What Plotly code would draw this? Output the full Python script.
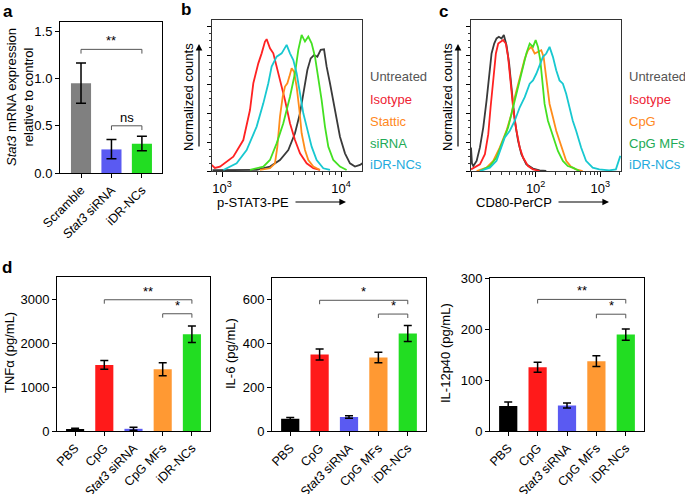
import plotly.graph_objects as go

FONT = "Liberation Sans, Arial, Helvetica, sans-serif"
W, H = 685, 494

# ---------------- Panel a data ----------------
a_categories = ["Scramble", "<i>Stat3</i> siRNA", "iDR-NCs"]
a_means = [0.95, 0.25, 0.31]
a_err_up = [0.215, 0.105, 0.08]
a_err_down = [0.21, 0.10, 0.075]
a_colors = ["#808080", "#5a5af2", "#22dd22"]
a_yticks = [0.0, 0.5, 1.0, 1.5]

# ---------------- Panel b data (log10 fluorescence, % of max counts) ----------------
b_untreated_log = [2.92, 3.095, 3.291, 3.403, 3.487, 3.557, 3.613, 3.655, 3.689, 3.717, 3.745, 3.773, 3.801, 3.829,
                   3.857, 3.879, 3.907, 3.935, 3.963, 3.991, 4.033, 4.075, 4.117, 4.159, 4.179]
b_untreated_cnt = [0.5, 0.7, 0.7, 2.9, 7.3, 13.9, 25.0, 38.2, 53.7, 66.9, 74.6, 76.8, 75.7, 80.2,
                   80.6, 69.1, 58.1, 47.0, 33.8, 22.7, 11.7, 5.1, 2.9, 4.0, 5.1]
b_isotype_log = [2.913, 2.94, 2.983, 3.095, 3.179, 3.235, 3.263, 3.305, 3.333, 3.361, 3.375, 3.403, 3.431,
                 3.459, 3.487, 3.529, 3.571, 3.613, 3.655, 3.711, 3.767, 3.823]
b_isotype_cnt = [4.0, 2.0, 2.9, 9.5, 20.5, 40.4, 58.1, 71.3, 77.9, 85.7, 87.3, 81.3, 77.9,
                 69.1, 60.3, 47.0, 31.6, 20.5, 11.7, 5.1, 1.8, 0.7]
b_stattic_log = [3.319, 3.403, 3.445, 3.465, 3.487, 3.510, 3.529, 3.549, 3.566, 3.585, 3.605, 3.627, 3.650,
                 3.669, 3.697, 3.725, 3.767, 3.823]
b_stattic_cnt = [0.7, 1.8, 5.1, 16.1, 36.0, 49.2, 55.9, 58.1, 62.5, 68.0, 65.8, 55.9, 40.4,
                 25.0, 13.9, 7.3, 2.9, 0.7]
b_sirna_log = [3.235, 3.347, 3.403, 3.459, 3.515, 3.571, 3.613, 3.641, 3.669, 3.697, 3.725, 3.753, 3.781,
               3.809, 3.837, 3.865, 3.893, 3.935, 3.991, 4.047]
b_sirna_cnt = [0.7, 2.9, 7.3, 18.3, 31.6, 49.2, 64.7, 80.2, 90.1, 85.7, 89.0, 84.6, 75.7,
               62.5, 47.0, 29.4, 16.1, 7.3, 2.9, 0.7]
b_idr_log = [3.011, 3.123, 3.207, 3.291, 3.347, 3.389, 3.417, 3.459, 3.501, 3.543, 3.571, 3.599, 3.627,
             3.655, 3.683, 3.711, 3.753, 3.795, 3.851, 3.907]
b_idr_cnt = [0.7, 5.1, 13.9, 29.4, 44.8, 58.1, 69.1, 75.7, 77.9, 83.5, 77.9, 73.5, 64.7,
             51.4, 38.2, 29.4, 16.1, 7.3, 1.8, 0.7]
b_labels = ["Untreated", "Isotype", "Stattic", "siRNA", "iDR-NCs"]
b_xtick_vals = [1000, 10000]
b_xtick_text = ["10<sup>3</sup>", "10<sup>4</sup>"]

# ---------------- Panel c data ----------------
c_untreated_log = [1.000, 1.015, 1.036, 1.087, 1.138, 1.190, 1.241, 1.282, 1.318, 1.359, 1.395, 1.431, 1.472,
                   1.508, 1.549, 1.590, 1.626, 1.677, 1.728, 1.779, 1.856, 1.959, 2.062, 2.164]
c_untreated_cnt = [15.6, 5.0, 3.3, 6.7, 15.6, 28.9, 46.7, 64.4, 77.8, 84.4, 87.8, 88.9, 87.8,
                   90.0, 83.3, 71.1, 53.3, 33.3, 20.0, 11.1, 4.4, 1.6, 0.4, 0.0]
c_isotype_log = [1.000, 1.138, 1.215, 1.267, 1.303, 1.344, 1.385, 1.421, 1.456, 1.497, 1.538, 1.574, 1.610,
                 1.651, 1.703, 1.754, 1.805, 1.882, 1.959, 2.062]
c_isotype_cnt = [1.1, 4.4, 11.1, 24.4, 42.2, 62.2, 77.8, 84.4, 85.6, 86.7, 84.4, 75.6, 60.0,
                 42.2, 26.7, 15.6, 8.9, 3.3, 1.1, 0.0]
c_cpg_log = [1.087, 1.241, 1.344, 1.446, 1.549, 1.626, 1.677, 1.728, 1.779, 1.831, 1.882, 1.933, 1.985,
             2.036, 2.087, 2.123, 2.164, 2.215, 2.267, 2.318, 2.369, 2.421, 2.472, 2.549, 2.626, 2.728]
c_cpg_cnt = [0.0, 2.2, 6.7, 15.6, 26.7, 37.8, 48.9, 57.8, 66.7, 74.4, 80.0, 82.2, 77.8,
             78.9, 80.0, 75.6, 60.0, 44.4, 35.6, 26.7, 20.0, 13.3, 6.7, 2.7, 1.1, 0.0]
c_mfs_log = [1.138, 1.292, 1.395, 1.497, 1.574, 1.651, 1.728, 1.805, 1.856, 1.908, 1.959, 2.000, 2.036,
             2.072, 2.103, 2.138, 2.190, 2.241, 2.292, 2.344, 2.421, 2.497, 2.574, 2.677]
c_mfs_cnt = [0.0, 3.3, 8.9, 20.0, 28.9, 42.2, 55.6, 68.9, 77.8, 84.4, 82.2, 86.7, 82.2,
             73.3, 57.8, 44.4, 33.3, 26.7, 20.0, 13.3, 6.7, 3.3, 2.2, 0.0]
c_idr_log = [1.138, 1.292, 1.395, 1.472, 1.523, 1.600, 1.677, 1.754, 1.831, 1.908, 1.959, 2.010, 2.062,
             2.113, 2.164, 2.215, 2.267, 2.318, 2.369, 2.421, 2.472, 2.523, 2.574, 2.626, 2.703, 2.779,
             2.882, 2.985, 3.138, 3.241, 3.292, 3.310]
c_idr_cnt = [0.0, 2.2, 6.7, 15.6, 22.2, 26.7, 33.3, 42.2, 48.9, 57.8, 60.0, 64.4, 70.0,
             75.6, 77.8, 82.2, 75.6, 66.7, 60.0, 57.8, 51.1, 42.2, 33.3, 26.7, 15.6, 6.7,
             2.2, 1.1, 0.4, 1.1, 6.7, 10.0]
c_labels = ["Untreated", "Isotype", "CpG", "CpG MFs", "iDR-NCs"]
c_xtick_vals = [10, 100, 1000]
c_xtick_text = ["", "10<sup>2</sup>", "10<sup>3</sup>"]

# ---------------- Panel d data ----------------
d_categories = ["PBS", "CpG", "<i>Stat3</i> siRNA", "CpG MFs", "iDR-NCs"]
d_colors = ["#000000", "#ff1a1a", "#5a5af2", "#ff9933", "#22dd22"]
tnf_means = [40, 1510, 50, 1410, 2210]
tnf_err = [20, 100, 35, 150, 190]
il6_means = [56, 350, 64, 336, 446]
il6_err = [6, 25, 6, 24, 37]
il12_means = [49, 125, 50, 137, 189]
il12_err = [8, 10, 5, 10.5, 11]
tnf_ticks = [0, 1000, 2000, 3000]
il6_ticks = [0, 200, 400, 600]
il12_ticks = [0, 100, 200, 300]

curve_colors = ["#3a3a3a", "#ff2222", "#ff8c1a", "#44e022", "#18c8d0"]
legend_colors = ["#555555", "#ee2233", "#ff8822", "#22aa55", "#22aadd"]


def dom_x(p0, p1):
    return [p0 / W, p1 / W]


def dom_y(top, bottom):
    return [1 - bottom / H, 1 - top / H]


fig = go.Figure()

boxes = {
    "a": (60, 162, 22, 173),
    "b": (212, 362, 20, 171),
    "c": (471, 621, 20, 171),
    "d1": (57, 210, 277, 431),
    "d2": (272, 426, 278, 431),
    "d3": (490, 644, 278, 431),
}
ids = {"a": "", "b": "2", "c": "3", "d1": "4", "d2": "5", "d3": "6"}

base_axis = dict(showline=True, linecolor="black", linewidth=1, mirror=True, ticks="outside",
                 ticklen=4, tickcolor="black", tickwidth=1, showgrid=False, zeroline=False,
                 automargin=False, tickfont=dict(family=FONT, size=13, color="black"))

layout = dict(width=W, height=H, margin=dict(l=0, r=0, t=0, b=0, autoexpand=False), paper_bgcolor="white",
              plot_bgcolor="white", showlegend=False, font=dict(family=FONT, color="black"))

for key, (x0, x1, y0, y1) in boxes.items():
    s = ids[key]
    layout["xaxis" + s] = dict(base_axis, domain=dom_x(x0, x1), anchor="y" + s)
    layout["yaxis" + s] = dict(base_axis, domain=dom_y(y0, y1), anchor="x" + s)

# panel a axes
layout["xaxis"].update(range=[-0.69, 2.66], tickvals=[0, 1, 2], ticktext=a_categories, tickangle=-45,
                       tickfont=dict(family=FONT, size=12.5, color="black"))
layout["yaxis"].update(range=[0, 1.6], tickvals=a_yticks, tickformat=".1f")

# panel d axes
for s, rng, tv in [("4", 3520, tnf_ticks), ("5", 700, il6_ticks), ("6", 300, il12_ticks)]:
    layout["xaxis" + s].update(range=[-0.62, 4.62], tickvals=list(range(5)), ticktext=d_categories,
                               tickangle=-45, tickfont=dict(family=FONT, size=12.5, color="black"))
    layout["yaxis" + s].update(range=[0, rng], tickvals=tv)

# flow axes
for s, rng, tv, tt, minors in [
    ("2", [2.916, 4.176], b_xtick_vals, b_xtick_text, [900, 2000, 3000, 4000, 5000, 6000, 7000, 8000, 9000]),
    ("3", [1.0, 3.32], c_xtick_vals, c_xtick_text,
     [20, 30, 40, 50, 60, 70, 80, 90, 200, 300, 400, 500, 600, 700, 800, 900, 2000]),
]:
    layout["xaxis" + s].update(type="log", range=rng, tickvals=tv, ticktext=tt, linecolor="#333",
                               ticklen=5, minor=dict(tickmode="array", tickvals=minors, ticks="outside",
                                                     ticklen=3, tickcolor="#333"))
    layout["yaxis" + s].update(range=[0, 100], tickvals=[0, 19.2, 38.4, 57.6, 76.8, 96.0],
                               showticklabels=False, linecolor="#333", ticklen=4,
                               minor=dict(tickmode="array",
                                          tickvals=[4.8 * i for i in range(1, 21) if i % 4 != 0],
                                          ticks="outside", ticklen=2, tickcolor="#333"))

fig.update_layout(**layout)

# ---------- bars ----------
fig.add_trace(go.Bar(x=[0, 1, 2], y=a_means, marker=dict(color=a_colors, line=dict(width=0)), width=0.66,
                     error_y=dict(type="data", symmetric=False, array=a_err_up, arrayminus=a_err_down,
                                  color="black", thickness=1.5, width=5),
                     xaxis="x", yaxis="y"))
for s, means, err in [("4", tnf_means, tnf_err), ("5", il6_means, il6_err), ("6", il12_means, il12_err)]:
    fig.add_trace(go.Bar(x=list(range(5)), y=means, marker=dict(color=d_colors, line=dict(width=0)),
                         width=0.62,
                         error_y=dict(type="data", array=err, color="black", thickness=1.5, width=4),
                         xaxis="x" + s, yaxis="y" + s))

# ---------- flow histograms ----------
b_sets = [(b_untreated_log, b_untreated_cnt), (b_isotype_log, b_isotype_cnt), (b_stattic_log, b_stattic_cnt),
          (b_sirna_log, b_sirna_cnt), (b_idr_log, b_idr_cnt)]
c_sets = [(c_untreated_log, c_untreated_cnt), (c_isotype_log, c_isotype_cnt), (c_cpg_log, c_cpg_cnt),
          (c_mfs_log, c_mfs_cnt), (c_idr_log, c_idr_cnt)]
for s, sets in [("2", b_sets), ("3", c_sets)]:
    for (lx, cnt), col in zip(sets, curve_colors):
        fig.add_trace(go.Scatter(x=[10 ** v for v in lx], y=cnt, mode="lines",
                                 line=dict(color=col, width=1.8), xaxis="x" + s, yaxis="y" + s,
                                 cliponaxis=True, hoverinfo="skip"))

shapes = []
annotations = []


def bracket(s, x0, x1, y, drop, text, fsize=13):
    shapes.append(dict(type="path", xref="x" + s, yref="y" + s,
                       path=f"M {x0},{y - drop} L {x0},{y} L {x1},{y} L {x1},{y - drop}",
                       line=dict(color="#555555", width=1)))
    annotations.append(dict(x=(x0 + x1) / 2, y=y, xref="x" + s, yref="y" + s, text=text, showarrow=False,
                            yanchor="bottom", yshift=-1, font=dict(family=FONT, size=fsize, color="black")))


bracket("", 0, 2, 1.31, 0.045, "**")
bracket("", 1, 2, 0.50, 0.045, "ns")
bracket("4", 1, 4, 3000, 90, "**")
bracket("4", 3, 4, 2680, 90, "*")
bracket("5", 1, 4, 598, 18, "*")
bracket("5", 3, 4, 535, 18, "*")
bracket("6", 1, 4, 258, 8, "**")
bracket("6", 3, 4, 229, 8, "*")


def txt(px, py, text, size=13, color="black", angle=0, xanchor="center"):
    annotations.append(dict(x=px / W, y=1 - py / H, xref="paper", yref="paper", text=text, showarrow=False,
                            textangle=angle, xanchor=xanchor, yanchor="middle",
                            font=dict(family=FONT, size=size, color=color)))


# panel letters
txt(8, 11, "<b>a</b>", size=17)
txt(186, 9, "<b>b</b>", size=17)
txt(443, 11, "<b>c</b>", size=17)
txt(7, 267, "<b>d</b>", size=17)

# axis titles
txt(20, 97, "<i>Stat3</i> mRNA expression<br>relative to control", size=13, angle=-90)
txt(188, 97, "Normalized counts", size=13, angle=-90)
txt(447, 97, "Normalized counts", size=13, angle=-90)
txt(253, 202, "p-STAT3-PE", size=13)
txt(514, 202, "CD80-PerCP", size=13)
txt(9, 353, "TNFα (pg/mL)", size=13, angle=-90)
txt(230, 353, "IL-6 (pg/mL)", size=13, angle=-90)
txt(445, 353, "IL-12p40 (pg/mL)", size=13, angle=-90)

# legends
leg_y = [76, 99, 121, 143, 164]
for lab, col, yy in zip(b_labels, legend_colors, leg_y):
    txt(368, yy, lab, size=13, color=col, xanchor="left")
for lab, col, yy in zip(c_labels, legend_colors, leg_y):
    txt(627, yy, lab, size=13, color=col, xanchor="left")


# arrows
def arrow(tipx, tipy, ax, ay):
    annotations.append(dict(x=tipx / W, y=1 - tipy / H, xref="paper", yref="paper", ax=ax, ay=ay,
                            axref="pixel", ayref="pixel", text="", showarrow=True, arrowhead=2,
                            arrowsize=1.1, arrowwidth=1.2, arrowcolor="black"))


arrow(199, 44, 0, 104)
arrow(458, 44, 0, 104)
arrow(346, 202, -52, 0)
arrow(609, 202, -52, 0)

fig.update_layout(shapes=shapes, annotations=annotations)
fig.write_html("out.html", config={"displayModeBar": False},
               post_script="document.body.style.margin='0';document.body.style.overflow='hidden';")
